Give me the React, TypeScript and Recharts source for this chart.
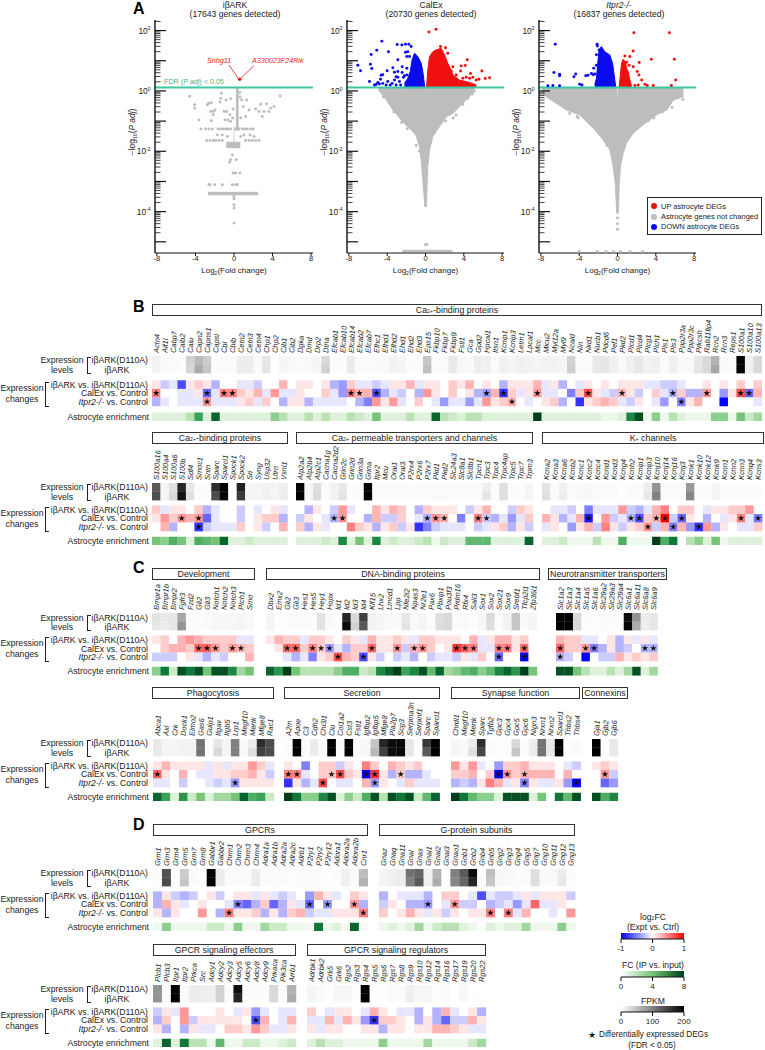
import React from 'react'
import { Area, ComposedChart, ReferenceLine, Scatter, ScatterChart, XAxis, YAxis, ZAxis } from 'recharts'

// ---------- panel A: volcano plots. pts are [log2FC, log10 padj], envelopes are [log2FC, low, high]
const fdrLine = 0.11
const decades = [-5, -4, -3, -2, -1, 0, 1, 2]
const xTicks = [-8, -4, 0, 4, 8]

const ibarkGreyPts = [
  [-4.6, -0.18], [-4.08, -0.46], [-4.08, -0.57], [-3.63, -0.96], [-3.43, -1.26], [-2.77, -0.46], [-2.6, -0.41], [-2.35, -0.39],
  [-2.42, -0.68], [-2.15, -0.68], [-1.97, -0.63], [-1.31, -0.08], [-1.38, -0.24], [-1.45, -0.37], [-0.83, -0.3], [-0.35, -0.26],
  [-1.04, -0.68], [-0.76, -0.68], [-0.42, -0.79], [-0.93, -0.96], [-0.62, -0.96], [-0.35, -1.01], [-2.15, -0.79], [-2.35, -0.99],
  [-1.73, -1.46], [-1.21, -1.46], [-0.69, -1.51], [1.31, -0.3], [0.8, -0.3], [0.97, -0.52], [1.56, -0.63], [1.21, -0.85],
  [2.25, -0.6], [2.77, -0.44], [3.39, -0.43], [3.81, -0.57], [4.15, -0.52], [4.78, -0.17], [2.94, -0.85], [3.11, -0.68],
  [3.63, -0.68], [2.6, -0.68], [2.08, -1.51], [1.66, -1.46], [1.04, -1.46], [0.69, -1.51], [-0.17, -2.12], [-0.35, -2.28],
  [-0.45, -2.36], [0.24, -2.28], [-0.1, -2.72], [0.17, -2.72], [0.62, -2.72], [-2.49, -3.11], [-2.6, -3.11], [-1.21, -3.11],
  [-2.0, -3.11], [-0.17, -3.11], [0.17, -3.11], [0.35, -3.11], [0, -3.5], [0, -3.57], [0, -3.77], [0, -3.88], [0, -4.38],
  [-2.94, -1.26], [-2.6, -1.26], [-2.25, -1.26], [-1.66, -1.26], [-1.38, -1.26], [-1.11, -1.26], [-0.87, -1.26], [-0.62, -1.26],
  [-0.35, -1.26], [0.17, -1.26], [0.52, -1.26], [0.87, -1.26], [1.11, -1.26], [1.38, -1.26], [1.73, -1.26], [2.0, -1.26],
  [-2.84, -1.64], [-2.49, -1.64], [-2.15, -1.64], [-1.9, -1.64], [-1.56, -1.64], [-1.21, -1.64], [1.21, -1.64], [1.56, -1.64],
  [1.9, -1.64], [2.25, -1.64], [2.6, -1.64], [0.6, -0.05], [0.62, -0.2], [0.7, -0.9], [-0.1, -0.6], [-0.15, -0.9],
]
const ibarkStrip = [[-2.7, -3.44, -3.36], [2.5, -3.44, -3.36]]
const ibarkColumn = [[0.2, -1.3, 0.08], [0.48, -1.3, 0.08]]
const ibarkClump = [[-0.8, -1.88, -1.7], [0.65, -1.88, -1.7]]
const ibarkStem = [[-0.04, -1.9, -1.2], [0.04, -1.9, -1.2]]
const ibarkRedPts = [[0.55, 0.39], [0.62, 0.39]]

const calexGreyBand = [
  [-4.9, 0.02, 0.11], [-4.5, -0.13, 0.11], [-4.1, -0.3, 0.11], [-3.4, -0.63, 0.11], [-2.4, -1.01, 0.11], [-1.7, -1.23, 0.11], [-1, -1.46, 0.11],
  [-0.63, -1.84, 0.11], [-0.45, -2.28, 0.11], [-0.28, -2.94, 0.11], [-0.17, -3.38, 0.11], [-0.07, -3.83, 0.11], [0.07, -3.83, 0.11],
  [0.14, -3.38, 0.11], [0.24, -2.5, 0.11], [0.42, -1.95, 0.11], [0.77, -1.51, 0.11], [1.46, -1.18, 0.11], [2.2, -0.85, 0.11],
  [2.9, -0.74, 0.11], [3.55, -0.52, 0.11], [4.25, -0.3, 0.11], [5.1, -0.02, 0.11],
]
const calexBlueBand = [
  [-2.2, 0.11, 0.25], [-1.85, 0.11, 0.42], [-1.6, 0.11, 0.64], [-1.4, 0.11, 1.03], [-1.15, 0.11, 1.25], [-0.8, 0.11, 1.14],
  [-0.45, 0.11, 0.92], [-0.28, 0.11, 0.64], [-0.07, 0.11, 0.11],
]
const calexRedBand = [
  [0.1, 0.11, 0.11], [0.24, 0.11, 0.69], [0.42, 0.11, 1.14], [0.77, 0.11, 1.3], [1.11, 0.11, 1.36], [1.64, 0.11, 1.41], [1.99, 0.11, 1.19],
  [2.33, 0.11, 0.92], [2.68, 0.11, 0.69], [2.86, 0.11, 0.53], [3.55, 0.11, 0.36], [4.6, 0.11, 0.28], [5.3, 0.11, 0.2],
]
const calexBottomRow = [[-2.4, -5.33, -5.28], [2.8, -5.33, -5.28]]
const calexGreyPts = [
  [0, -5.09], [0.14, -5.09], [-0.98, -1.81], [-0.63, -2.0], [0, -3.1], [0, -3.3], [0.05, -3.6], [0, -3.8], [-2, -1.1], [-1.9, -1.25], [-3.3, -0.7],
  [-4.4, -0.2], [-4.5, -0.05], [2.9, -0.9], [3.2, -0.8], [3.9, -0.45], [4.4, -0.25], [4.9, -0.1], [5.1, 0.0], [-2.5, -1.05], [2.1, -1.0],
]
const calexBluePts = [
  [-4.56, 1.65], [-5.09, 1.35], [-5.68, 1.21], [-3.87, 1.3], [-7.07, 0.85], [-6.79, 0.67], [-5.75, 0.88], [-5.61, 0.74], [-2.96, 1.54], [-2.47, 1.52],
  [-2.09, 1.55], [-1.74, 1.55], [-1.5, 1.47], [-1.85, 1.3], [-2.09, 1.28], [-1.67, 1.14], [-1.95, 1.14], [-2.89, 1.03], [-3.41, 0.77], [-4.01, 0.67],
  [-4.46, 0.54], [-4.63, 0.52], [-4.7, 0.39], [-5.85, 0.31], [-4.98, 0.28], [-5.33, 0.2], [-5.16, 0.21], [-4.46, 0.25], [-3.94, 0.31], [-3.24, 0.36],
  [-3.24, 0.62], [-2.89, 0.64], [-2.44, 0.8], [-2.44, 0.61], [-2.89, 0.45], [-1.95, 0.75], [-2.72, 0.31], [-3.07, 0.47], [-1.95, 0.53], [-2.3, 0.45],
  [-4.81, 0.23], [-3.48, 0.25], [-4.11, 0.2], [-3.69, 0.2], [-3.07, 0.2], [-2.6, 0.2], [-2.2, 0.5],
]
const calexRedPts = [
  [0.35, 1.95], [1.11, 2.04], [1.57, 1.47], [2.09, 1.43], [2.33, 1.25], [4.36, 1.03], [4.15, 0.84], [3.73, 0.83], [3.66, 0.66], [5.89, 0.66], [4.7, 0.58],
  [4.95, 0.45], [5.3, 0.36], [6.24, 0.41], [6.69, 0.44], [5.57, 0.39], [2.86, 0.8], [2.68, 0.66], [3.2, 0.53], [4.25, 0.45], [4.6, 0.42], [3.9, 0.42],
]

const itprGreyBand = [
  [-7.9, 0.05, 0.11], [-7.45, -0.19, 0.11], [-6.4, -0.41, 0.11], [-5.35, -0.63, 0.11], [-3.95, -0.79, 0.11], [-2.55, -1.23, 0.11], [-1.5, -1.62, 0.11],
  [-0.8, -1.95, 0.11], [-0.45, -2.5, 0.11], [-0.21, -3.16, 0.11], [-0.08, -4.05, 0.11], [-0.01, -4.05, -0.4], [0.01, -4.05, -0.4], [0.08, -4.05, 0.11], [0.17, -3.16, 0.11],
  [0.31, -2.5, 0.11], [0.59, -2.06, 0.11], [0.94, -1.73, 0.11], [1.64, -1.4, 0.11], [2.69, -1.12, 0.11], [4.09, -0.79, 0.11],
  [5.14, -0.63, 0.11], [5.84, -0.3, 0.11], [6.89, -0.19, 0.11],
]
const itprBlueBand = [
  [-2.38, 0.11, 0.2], [-2.2, 0.11, 0.42], [-2.03, 0.11, 1.03], [-1.92, 0.11, 1.36], [-1.68, 0.11, 1.47], [-1.33, 0.11, 1.3], [-0.8, 0.11, 1.19],
  [-0.52, 0.11, 0.92], [-0.35, 0.11, 0.53], [-0.17, 0.11, 0.11],
]
const itprRedBand = [
  [0.17, 0.11, 0.11], [0.28, 0.11, 0.47], [0.42, 0.11, 0.92], [0.59, 0.11, 1.05], [0.84, 0.11, 0.97], [0.94, 0.11, 0.75], [1.12, 0.11, 0.64],
  [1.29, 0.11, 0.36], [1.47, 0.11, 0.17],
]
const itprGreyPts = [
  [0, -4.21], [0, -4.4], [0, -4.58], [0, -3.6], [6.82, -0.28], [6.7, -0.14], [6.2, -0.08], [5.6, -0.1], [-6.6, -0.3], [-7.6, -0.1], [-5, -0.75], [-4.2, -0.85],
  [-4.1, -0.9], [3.2, -1.0], [3.8, -0.9], [4.7, -0.7], [5.7, -0.55], [-3, -1.05], [-1.1, -1.8], [-2.1, -5.32], [-1.2, -5.32], [-0.4, -5.32], [0.3, -5.32], [1.3, -5.32], [2.6, -5.32], [-4, -5.32],
]
const itprBluePts = [
  [-6.5, 1.55], [-6.64, 0.61], [-6.05, 0.55], [-6.05, 0.5], [-7.27, 0.17], [-6.75, 0.18], [-6.05, 0.17], [-4.55, 0.47], [-4.37, 0.56], [-3.95, 0.22], [-3.71, 0.2],
  [-3.32, 0.5], [-3.08, 0.52], [-2.73, 0.58], [-2.48, 0.75], [-2.13, 1.55], [-2.1, 1.49], [-2.38, 0.56], [-2.55, 0.54], [-1.92, 1.36], [-2.2, 1.2], [-2.2, 0.85],
]
const itprRedPts = [
  [1.71, 1.93], [5.42, 1.93], [1.64, 1.32], [1.29, 1.14], [0.77, 1.16], [2.27, 0.94], [3.53, 1.05], [5.94, 1.05], [1.64, 0.8], [2.06, 0.64], [2.24, 0.53], [2.52, 0.36],
  [6.08, 0.36], [2.87, 0.22], [3.11, 0.18], [3.74, 0.18], [5.63, 0.18], [1.22, 0.18], [1.82, 0.18], [2.17, 0.2], [0.95, 0.95], [1.2, 0.85],
]

// ---------- heat maps. levels in FPKM, fold change in tenths of log2FC, enrichment in FC
const b1Genes = 'Actn4 Aif1l Cabp7 Calb2 Calu Capn2 Capns1 Capsl Cbl Cblb Cetn2 Cetn3 Cetn4 Chp1 Chp2 Cib1 Cib2 Dgka Dmd Drp2 Dtna Efcab1 Efcab10 Efcab14 Efcab2 Efcab7 Efhc1 Efhd1 Efhd2 Ehd1 Ehd2 Ehd3 Eps15 Fkbp10 Fkbp7 Fkbp9 Fstl1 Gca Gpd2 Hpcal1 Itsn1 Kcnip1 Kcnip3 Letm1 Lpcat1 Mcc Micu2 Myl12a Myl9 Ncald Nln Nkd1 Nucb1 Pdcd6 Pef1 Pkd2 Plcd1 Plcd4 Plcg1 Plch1 Pls1 Pls3 Ppp2r3a Ppp2r3c Prkcsh Rab11fip4 Rcn2 Rcn3 Reps1 S100a1 S100a10 S100a13'.split(' ')
const b1LevelA = [10, 4, 4, 2, 35, 55, 40, 2, 4, 4, 14, 14, 4, 20, 1, 8, 5, 4, 5, 8, 30, 2, 2, 16, 4, 2, 4, 5, 10, 8, 2, 3, 45, 3, 3, 18, 6, 5, 14, 12, 4, 12, 8, 12, 10, 8, 10, 10, 8, 35, 3, 3, 18, 20, 12, 5, 12, 18, 10, 12, 3, 12, 5, 5, 20, 30, 60, 5, 3, 200, 12, 30]
const b1LevelB = [10, 4, 4, 2, 32, 65, 45, 2, 4, 4, 14, 14, 4, 20, 1, 8, 5, 4, 5, 8, 35, 2, 2, 16, 4, 2, 4, 5, 10, 8, 2, 3, 50, 3, 3, 18, 6, 5, 14, 12, 4, 12, 8, 12, 10, 8, 10, 10, 8, 38, 3, 3, 18, 20, 12, 5, 12, 18, 10, 12, 3, 12, 5, 5, 20, 30, 70, 5, 3, 200, 12, 30]
const b1Fc1 = [1, -2, -1, -7, 1, 2, 1, -3, 0, 0, -1, -1, -2, 0, 0, 3, 0, 1, 1, 0, 1, -3, -4, 2, -1, -1, -2, -1, 1, 1, 3, -1, 1, 1, 0, 2, 1, 3, 0, 1, 0, -3, 1, 1, 1, 3, -1, 1, -3, 0, -1, 1, 0, 1, 0, 1, 1, 1, -1, -1, -2, -2, -1, 0, 0, 1, 0, 1, 0, 2, 0, 2]
const b1Fc2 = [5, 0, 0, -1, -1, 1, -6, -1, 5, 5, 2, 1, 3, -1, 4, -1, -1, 1, 0, 0, 2, -1, -4, 5, 3, 3, -7, -3, -1, -2, 0, -3, 4, 1, 0, 2, 0, 1, -3, -4, 3, -8, 2, -1, 1, 4, -1, -1, 0, -5, 2, 7, 1, -1, -2, 3, 1, -2, 0, 2, -1, -3, 2, -3, -3, 4, 0, -4, 1, 7, -6, 3]
const b1Fc3 = [-3, -1, 0, -1, -1, -1, 4, -1, -1, -1, 1, 2, -1, 2, 0, -3, 1, 1, -3, -1, -1, -1, -1, 0, -3, -5, 4, 1, 4, -1, 0, 2, 0, -1, -4, -1, -1, -4, -1, 4, 1, 2, 3, 0, -1, 0, 1, 2, -3, 0, -8, 1, 2, 3, 2, -1, -2, 1, 0, -1, -4, 0, -5, 1, 3, 0, 0, -10, 0, 0, 0, -1]
const b1Enrich = [1, 1, 1, 1, 2, 5, 1, 7, 1, 1, 1, 1, 1, 1, 3, 2, 1, 1, 2, 1, 2, 1, 1, 2, 1.5, 1, 3.5, 1, 1, 1, 2, 1, 1, 7, 2, 1.5, 1, 2, 2, 1, 1, 1, 1, 1, 1, 8, 1, 1, 1, 1, 1, 1, 1, 0.5, 0.5, 1, 6, 7.5, 0.5, 3, 0.5, 2, 1, 0.5, 0.5, 0.5, 3, 3, 0.5, 3.5, 1.5, 2.5]
const b1Stars2 = ['Actn4', 'Capns1', 'Cbl', 'Cblb', 'Efcab14', 'Efcab2', 'Efhc1', 'Hpcal1', 'Kcnip1', 'Mcc', 'Nkd1', 'Pkd2', 'Pls3', 'Rab11fip4', 'S100a1', 'S100a10']
const b1Stars3 = ['Capns1', 'Kcnip3', 'Ppp2r3a']

const b2Genes = 'S100a16 S100a4 S100a6 S100b Sdf4 Smoc1 Sntn Sparc Sparcl1 Spock1 Spock2 Sri Syng Usp32 Utrn Vsnl1'.split(' ')
const b2LevelA = [130, 8, 25, 170, 20, 3, 2, 165, 200, 3, 175, 8, 8, 12, 8, 14]
const b2LevelB = [140, 8, 30, 185, 25, 3, 2, 140, 195, 3, 155, 8, 8, 12, 8, 14]
const b2Fc1 = [2, -1, 1, 1, 0, 2, -3, -1, 0, 0, -2, 0, -1, 0, 1, -1]
const b2Fc2 = [1, 4, 2, 4, 3, 4, -6, -1, 0, 0, -2, 0, 1, 2, 2, -3]
const b2Fc3 = [0, 3, -3, 0, 0, -8, -2, -1, -1, -1, 2, 0, 1, -2, 0, 3]
const b2Enrich = [3.5, 3, 4.5, 3.5, 1, 4.5, 4, 3.5, 7, 1, 1, 1.5, 1, 1, 1, 1]
const b2Stars2 = ['S100b', 'Smoc1']
const b2Stars3 = ['Smoc1']

const b3Genes = 'Atp2a2 Atp2b4 Atp2c1 Cacna1g Cacna2d2 Grin2c Grin2d Grin3a Grina Itpr2 Mcu Orai1 Orai3 P2rx4 P2rx6 P2rx7 Pkd1 Pkd2 Slc24a3 Slc8a1 Slc8b1 Tpcn1 Trpc3 Trpc4 Trpc4ap Trpc5 Trpc7 Trpm3'.split(' ')
const b3LevelA = [195, 6, 25, 3, 10, 18, 2, 2, 195, 4, 3, 4, 3, 2, 3, 3, 4, 4, 3, 3, 3, 4, 14, 2, 25, 2, 2, 8]
const b3LevelB = [200, 6, 28, 3, 10, 22, 2, 2, 200, 4, 3, 4, 3, 2, 3, 3, 4, 4, 3, 3, 3, 4, 20, 2, 25, 2, 2, 8]
const b3Fc1 = [0, -3, 1, 0, -2, 4, -1, 0, 0, 3, 1, 3, 2, 0, -3, 2, 1, 1, 1, 0, -2, 1, 3, 0, 0, -2, 2, 1]
const b3Fc2 = [-2, 1, 0, -1, -3, 4, 0, 0, -3, 3, -2, -2, 2, 0, -1, -3, 4, 3, 0, -5, 0, 5, -2, -3, -1, -4, -1, 2]
const b3Fc3 = [2, -3, 1, -1, 0, 0, 5, 2, 1, -3, 1, 2, -2, 1, -8, -5, -2, -1, -1, -1, 0, -2, -1, 1, 2, -3, 1, -2]
const b3Enrich = [1, 1, 1, 1.5, 1, 6, 1, 3.5, 1, 6, 1, 1.5, 1, 1, 1.5, 2, 0.5, 1.5, 1, 1, 4, 4, 4, 1, 1, 1, 1, 7]
const b3Stars2 = ['Cacna2d2', 'Grin2c', 'P2rx7', 'Pkd1', 'Pkd2', 'Tpcn1', 'Trpc3']
const b3Stars3: string[] = []

const b4Genes = 'Kcna2 Kcna3 Kcna6 Kcnb2 Kcnc1 Kcnc2 Kcnc4 Kcnd1 Kcnd3 Kcng4 Kcnh2 Kcnip1 Kcnip3 Kcnj10 Kcnj14 Kcnj16 Kcnj3 Kcnk1 Kcnk10 Kcnk12 Kcnk9 Kcnn1 Kcnn2 Kcnn3 Kcnq4 Kcns3'.split(' ')
const b4LevelA = [22, 4, 12, 3, 5, 6, 3, 3, 4, 1, 3, 3, 14, 85, 3, 3, 3, 80, 2, 2, 8, 2, 2, 2, 2, 2]
const b4LevelB = [24, 4, 14, 3, 5, 6, 3, 3, 4, 1, 3, 3, 18, 100, 3, 3, 3, 95, 2, 2, 8, 2, 2, 2, 2, 2]
const b4Fc1 = [0, -1, -1, -2, 0, -5, -1, -1, -1, 4, -2, -3, -1, 3, 5, 0, 2, 2, 0, -1, 1, 1, 2, 2, 4, 0]
const b4Fc2 = [3, 1, -3, -1, 3, -9, 0, 4, -2, -1, -3, -7, 2, 3, 10, -2, -6, 1, 0, -3, 0, -1, 1, 5, -1, -5]
const b4Fc3 = [-1, 1, 0, -4, 1, 3, -2, 5, 1, -2, 1, 2, 4, -2, 3, -5, 3, -4, -8, 4, -3, 1, 0, -1, -1, 2]
const b4Enrich = [1, 1, 1.5, 0.5, 0.5, 0.5, 2, 0.5, 0.5, 4.5, 0.5, 0.5, 0.5, 8, 4.5, 6.5, 0, 2, 3, 1, 3.5, 0.5, 1, 1, 1, 1]
const b4Stars2 = ['Kcnc2', 'Kcnh2', 'Kcnip1', 'Kcnj10', 'Kcnj14', 'Kcnj3', 'Kcnn3', 'Kcns3']
const b4Stars3 = ['Kcnip3', 'Kcnj16', 'Kcnk10']

const c1Genes = 'Bmpr1a Bmpr1b Bmpr2 Fgfr3 Fzd2 Gli2 Gli3 Notch1 Notch2 Notch3 Ptch1 Smo'.split(' ')
const c1LevelA = [22, 18, 20, 70, 3, 2, 4, 6, 6, 6, 8, 5]
const c1LevelB = [18, 14, 20, 85, 3, 2, 4, 6, 6, 6, 8, 5]
const c1Fc1 = [1, 2, 0, 3, 4, 3, 2, 2, 2, 2, -1, -1]
const c1Fc2 = [0, 2, 3, 3, 2, 6, 6, 4, 2, 4, 3, 2]
const c1Fc3 = [-2, -2, -2, 0, 1, -1, -3, -1, -2, 0, 0, 3]
const c1Enrich = [3, 6.5, 1.5, 7.5, 6.5, 7.5, 3.5, 7.5, 7.5, 6, 2.5, 3.5]
const c1Stars2 = ['Gli2', 'Gli3', 'Notch1', 'Notch3', 'Ptch1']
const c1Stars3: string[] = []

const c2Genes = 'Dbx2 Emx2 Gli2 Gli3 Hes1 Hes5 Hey1 Hopx Id1 Id2 Id3 Id4 Klf15 Lhx2 Lmcd1 Lpp Nfe2l2 Npas3 Nr2e1 Pax6 Pbxip1 Pou3f3 Prdm16 Rfx4 Sall3 Sox1 Sox2 Sox21 Sox9 Srebf1 Tfcp2l1 Zfp36l1'.split(' ')
const c2LevelA = [8, 1, 2, 4, 2, 3, 22, 5, 2, 170, 30, 150, 10, 8, 5, 4, 20, 5, 8, 3, 25, 30, 3, 5, 2, 6, 30, 2, 10, 45, 4, 8]
const c2LevelB = [8, 1, 2, 4, 2, 3, 22, 5, 2, 190, 35, 130, 10, 8, 5, 4, 22, 5, 8, 3, 25, 30, 3, 5, 2, 6, 25, 2, 10, 45, 4, 8]
const c2Fc1 = [1, 3, 2, 2, -1, 2, 2, 1, 0, 2, 1, -1, 3, 1, 1, 2, 1, -1, 2, 2, 1, 1, 1, 0, 3, -1, 1, 3, 3, 1, 2, 0]
const c2Fc2 = [0, 1, 6, 6, 2, 5, 2, -4, -1, -3, 2, 2, 6, 1, 1, 4, -2, 3, 4, 2, 0, 1, 8, 6, 5, -1, -1, 5, 5, 1, 6, 0]
const c2Fc3 = [0, 0, -1, -3, -1, -5, 1, 2, 7, 3, 2, -7, 1, -2, 0, -2, -1, -3, 0, -2, -1, -1, -2, 1, -1, 2, 0, -6, 0, 0, -10, 0]
const c2Enrich = [7, 5.5, 8, 3.5, 2, 2, 2, 2, 3, 4.5, 4.5, 1.5, 2, 6, 7, 8, 5, 6, 7.5, 4, 7, 2.5, 3, 4, 4.5, 3, 4, 6, 7, 5.5, 8, 3.5]
const c2Stars2 = ['Gli2', 'Gli3', 'Hes5', 'Hey1', 'Hopx', 'Klf15', 'Lpp', 'Npas3', 'Nr2e1', 'Prdm16', 'Rfx4', 'Sall3', 'Sox21', 'Sox9', 'Tfcp2l1']
const c2Stars3 = ['Id1', 'Id4', 'Sox21', 'Tfcp2l1']

const c3Genes = 'Slc1a2 Slc1a3 Slc1a4 Slc1a5 Slc1a6 Slc29a2 Slc29a3 Slc29a4 Slc6a1 Slc6a11 Slc6a8 Slc6a9'.split(' ')
const c3LevelA = [200, 200, 30, 2, 1, 2, 2, 2, 190, 85, 16, 20]
const c3LevelB = [200, 200, 28, 2, 1, 2, 2, 2, 195, 65, 14, 20]
const c3Fc1 = [3, 2, 2, -1, -1, 0, 1, -3, 1, -1, 1, -1]
const c3Fc2 = [6, 2, 2, 4, -5, -3, 1, -3, -2, 0, -3, -3]
const c3Fc3 = [-3, -2, 0, -10, 0, -2, -2, 3, 1, 2, 1, 2]
const c3Enrich = [7.5, 7.5, 3.5, 2, 1, 1, 2, 1, 2.5, 7.5, 1, 2.5]
const c3Stars2 = ['Slc1a2', 'Slc1a5', 'Slc1a6', 'Slc6a8', 'Slc6a9']
const c3Stars3 = ['Slc1a2']

const c4Genes = 'Abca1 Axl Crk Dock1 Elmo2 Gas6 Gulp1 Itgav Itgb5 Lrp1 Megf10 Mertk Mfge8 Rac1'.split(' ')
const c4LevelA = [18, 8, 8, 10, 10, 110, 3, 20, 8, 100, 5, 15, 165, 140]
const c4LevelB = [18, 8, 8, 10, 10, 110, 3, 30, 8, 100, 5, 25, 150, 140]
const c4Fc1 = [1, 3, 1, 1, 1, 1, -1, 1, -1, 1, 1, 4, 2, -1]
const c4Fc2 = [6, 1, 0, 3, 0, -1, -1, 1, 1, 2, 2, 3, 1, -2]
const c4Fc3 = [-1, -1, 0, -2, 0, 0, -1, -2, -1, -4, 1, 1, 1, 1]
const c4Enrich = [7, 5, 1, 5.5, 1.5, 3.5, 1, 2.5, 2.5, 3.5, 7, 4.5, 5, 1.5]
const c4Stars2 = ['Abca1']
const c4Stars3 = ['Lrp1']

const c5Genes = 'A2m Apoe C3 Cdh2 Chi3l1 Clu Col1a2 Cst3 Fstl1 Igfbp2 Igfbp5 Mfge8 Pla2g7 Scg3 Serpina3n Serpinf1 Sparc Sparcl1'.split(' ')
const c5LevelA = [2, 200, 2, 16, 4, 200, 3, 200, 4, 6, 45, 170, 190, 195, 20, 2, 155, 200]
const c5LevelB = [2, 200, 2, 14, 4, 200, 3, 200, 4, 6, 55, 150, 190, 195, 20, 2, 130, 200]
const c5Fc1 = [1, 0, -5, 0, 2, 2, -2, 1, 0, 5, 2, 0, 3, 2, 1, 2, 0, 0]
const c5Fc2 = [5, 5, -1, 0, 2, 2, 7, 2, 1, -10, 8, 1, -3, 2, -3, -3, -1, 0]
const c5Fc3 = [-8, 1, -3, -1, 7, 0, -1, -1, 0, 3, -4, 1, 0, -1, 2, -1, -1, -1]
const c5Enrich = [8, 6.5, 3, 3, 6, 7.5, 1, 3, 1.5, 4.5, 7.5, 2, 7.5, 6.5, 7.5, 1.5, 4, 7]
const c5Stars2 = ['A2m', 'Apoe', 'Clu', 'Col1a2', 'Igfbp2', 'Igfbp5', 'Scg3']
const c5Stars3 = ['Chi3l1', 'Igfbp5']

const c6Genes = 'Chrdl1 Megf10 Mertk Sparc Tgfb2 Gpc3 Gpc4 Gpc5 Gpc6 Nlgn3 Nrxn1 Nrxn2 Sparcl1 Thbs2 Thbs4'.split(' ')
const c6LevelA = [8, 5, 15, 165, 2, 1, 3, 30, 2, 14, 110, 18, 200, 1, 3]
const c6LevelB = [8, 5, 25, 145, 2, 1, 3, 45, 2, 14, 110, 18, 200, 1, 3]
const c6Fc1 = [4, 1, 4, -1, 0, -4, 2, 2, 3, 1, 1, 1, 0, -1, -2]
const c6Fc2 = [2, 2, 3, 0, 2, -10, 4, 2, 3, 3, 3, 3, 0, 3, 0]
const c6Fc3 = [-3, -2, -3, 1, 5, 3, -1, 1, -5, 1, -1, -1, 1, -4, -10]
const c6Enrich = [8, 6.5, 4, 3, 3, 1, 7.5, 7.5, 7.5, 1, 3.5, 0, 6.5, 4, 7.5]
const c6Stars2 = ['Gpc3', 'Gpc4', 'Gpc6']
const c6Stars3 = ['Gpc6', 'Thbs4']

const c7Genes = ['Gja1', 'Gjb2', 'Gjb6']
const c7LevelA = [200, 1, 18]
const c7LevelB = [200, 1, 18]
const c7Fc1 = [1, 2, 1]
const c7Fc2 = [0, 4, -2]
const c7Fc3 = [0, -6, -4]
const c7Enrich = [7.5, 4.5, 6]
const c7Stars2 = ['Gjb2']
const c7Stars3: string[] = []

const d1Genes = 'Grm1 Grm3 Grm4 Grm5 Grm7 Grm8 Gabbr1 Gabbr2 Chrm1 Chrm2 Chrm3 Chrm4 Adra1a Adra1b Adra2a Adra2c Adrb1 P2ry1 P2ry2 P2ry12 Adora1 Adora2a Adora2b Cnr1'.split(' ')
const d1LevelA = [2, 135, 2, 40, 4, 2, 200, 15, 4, 4, 4, 15, 3, 2, 3, 1, 2, 2, 2, 1, 2, 12, 4, 50]
const d1LevelB = [2, 140, 2, 45, 4, 2, 200, 15, 4, 4, 4, 15, 3, 2, 3, 1, 2, 2, 2, 1, 2, 12, 4, 60]
const d1Fc1 = [-3, 1, -2, -3, -2, 0, 1, -2, 0, 1, 1, -1, 1, -1, -2, -1, 0, -4, 3, 1, -1, 0, 2, 1]
const d1Fc2 = [-3, 3, 1, -1, 0, 1, 0, 0, -1, -5, -6, -3, 2, -6, -3, 1, -1, -6, 0, -4, 0, 0, 4, -3]
const d1Fc3 = [1, -3, 1, 0, 0, 4, 0, -3, 5, 1, 1, 2, -3, 1, -3, 2, 3, -2, -1, -1, 1, 1, 1, 5]
const d1Enrich = [0.5, 3, 0.5, 0.5, 0.5, 0.5, 1.5, 1.5, 0.5, 3, 0.5, 0.5, 2.5, 1.5, 1.5, 0.5, 0.5, 0.3, 6.5, 0.5, 1, 0.3, 7, 0.3]
const d1Stars2 = ['Chrm2', 'P2ry1', 'P2ry12', 'Adora2b']
const d1Stars3 = ['Chrm1', 'Cnr1']

const d2Genes = 'Gnaz Gnaq Gna11 Gnal Gnas Gnai1 Gnai2 Gnai3 Gnao1 Gnb1 Gnb2 Gnb4 Gnb5 Gng2 Gng3 Gng4 Gng5 Gng7 Gng10 Gng11 Gng12 Gng13'.split(' ')
const d2LevelA = [8, 12, 14, 110, 120, 12, 60, 2, 100, 130, 190, 2, 50, 6, 5, 2, 3, 25, 4, 5, 14, 2]
const d2LevelB = [8, 12, 14, 100, 130, 12, 65, 2, 95, 120, 170, 2, 45, 6, 5, 2, 3, 25, 4, 5, 18, 2]
const d2Fc1 = [-3, 0, -1, -1, -1, -3, 0, 2, 2, 0, -1, -7, -1, -2, -2, -1, 1, -1, 1, 1, 1, -2]
const d2Fc2 = [-2, 1, 0, -3, -3, -4, 0, -1, 4, -2, -2, 0, -3, -2, -1, -4, -1, 6, -1, -1, 1, 0]
const d2Fc3 = [2, 0, 1, 3, 1, -1, 1, -2, 1, 0, 1, 1, 5, 0, 5, -1, 3, 0, 0, -1, 0, 4]
const d2Enrich = [0.5, 1, 0.5, 1, 2.5, 0.5, 1.5, 2, 2, 1, 0.5, 0, 1, 0.5, 1, 1, 2.5, 0.5, 0.5, 0.5, 3, 0.5]
const d2Stars2 = ['Gnai1', 'Gnao1']
const d2Stars3 = ['Gnb5', 'Gng3']

const d3Genes = 'Plcb1 Plcb3 Itpr1 Itpr2 Prkca Src Adcy1 Adcy2 Adcy3 Adcy5 Adcy6 Adcy8 Adcy9 Prkaca Pik3ca Arrb1'.split(' ')
const d3LevelA = [85, 4, 200, 4, 14, 14, 12, 35, 3, 190, 3, 2, 2, 30, 3, 60]
const d3LevelB = [85, 4, 200, 4, 14, 14, 12, 35, 3, 170, 3, 2, 2, 30, 3, 65]
const d3Fc1 = [-2, 1, -1, 4, 0, 0, 0, 1, 0, -1, 1, -4, -1, 0, -1, -1]
const d3Fc2 = [-3, 2, 0, 4, -2, 1, 1, 1, 1, 1, 0, -7, 3, 0, -1, 3]
const d3Fc3 = [1, -3, 0, -3, 1, -1, -1, 0, 2, 2, 1, 4, 2, -1, -1, 1]
const d3Enrich = [1, 7, 1, 6.5, 2, 2, 0.5, 4, 0.5, 0.5, 1.5, 1.5, 0.5, 0.5, 1, 1.5]
const d3Stars2 = ['Adcy8']
const d3Stars3: string[] = []

const d4Genes = 'Adrbk1 Adrbk2 Grk5 Grk6 Rgs2 Rgs3 Rgs4 Rgs5 Rgs6 Rgs7 Rgs8 Rgs9 Rgs10 Rgs12 Rgs14 Rgs16 Rgs17 Rgs19 Rgs20 Rgs22'.split(' ')
const d4LevelA = [8, 4, 1, 6, 6, 1, 200, 1, 1, 3, 3, 12, 6, 6, 1, 4, 1, 6, 1, 0]
const d4LevelB = [8, 4, 1, 6, 6, 1, 200, 1, 1, 3, 3, 14, 6, 6, 1, 4, 1, 6, 1, 0]
const d4Fc1 = [2, 0, -1, 1, 1, 0, -1, 3, 1, 0, -1, -1, -3, 0, -3, 3, -1, 0, 1, -3]
const d4Fc2 = [-1, -1, 3, -1, 3, 1, -4, -8, 2, 2, 1, 0, -3, 1, -3, -6, -2, -2, 3, 1]
const d4Fc3 = [1, -1, 1, 1, 0, 0, 1, 1, -3, 1, 1, 0, 1, 1, 3, 3, 2, 1, -1, -1]
const d4Enrich = [1, 2, 1, 1, 0.5, 0.5, 0.5, 0.5, 3, 0.5, 0.5, 0.5, 0.5, 2.5, 0.5, 0.5, 0.5, 0.5, 1.5, 2.5]
const d4Stars2 = ['Rgs5']
const d4Stars3: string[] = []

// ---------- helpers
const font = '"Liberation Sans", Arial, sans-serif'
const pts = (list: number[][]) => list.map(([x, y]) => ({ x, y }))
const band = (list: number[][]) => list.map(([x, lo, hi]) => ({ x, range: [lo, hi] }))

const mix = (a: number[], b: number[], t: number) => a.map((c, i) => Math.round(c + (b[i] - c) * t))
const rgb = (c: number[]) => `rgb(${c[0]},${c[1]},${c[2]})`
const fcColor = (v: number) => rgb(mix([255, 255, 255], v < 0 ? [0, 0, 255] : [255, 0, 0], Math.min(1, Math.abs(v) / 10)))
const levelColor = (v: number) => rgb(mix([255, 255, 255], [0, 0, 0], v / 200))
const greenStops: [number, number[]][] = [[0, [255, 255, 255]], [1, [222, 241, 218]], [2, [184, 226, 178]], [3.5, [118, 196, 120]], [5, [58, 163, 90]], [6.5, [14, 120, 56]], [8, [0, 62, 26]]]
const enrichColor = (v: number) => {
  for (let i = 1; i < greenStops.length; i++) {
    if (v <= greenStops[i][0]) {
      const [a, ca] = greenStops[i - 1]
      const [b, cb] = greenStops[i]
      return rgb(mix(ca, cb, (v - a) / (b - a)))
    }
  }
  return rgb(greenStops[greenStops.length - 1][1])
}

const T = ({ x, y, a = 'l', size = 8.7, children, style }: any) => (
  <div style={{
    position: 'absolute', left: x, top: y, whiteSpace: 'nowrap', lineHeight: 1, fontSize: size, color: '#1a1a1a',
    transform: `translate(${a === 'l' ? '0' : a === 'c' ? '-50%' : '-100%'},-50%)`, ...style,
  }}>{children}</div>
)
const Sup = ({ children }: any) => <span style={{ fontSize: '60%', verticalAlign: '45%', lineHeight: 0 }}>{children}</span>
const Sub = ({ children }: any) => <span style={{ fontSize: '60%', verticalAlign: '-25%', lineHeight: 0 }}>{children}</span>

// ---------- volcano
const volcanoTicks = decades.flatMap(k => [1, 2, 3, 4, 5, 6, 7, 8, 9].map(d => k + Math.log10(d))).filter(v => v > -5.37 && v < 2.35)
const axisGutter = 42

const YTick = ({ x, y, payload }: any) => {
  const v = payload.value
  const major = Math.abs(v - Math.round(v)) < 1e-6
  const labelled = major && Math.round(v) % 2 === 0 && Math.round(v) > -5
  return (
    <g>
      <line x1={x} x2={x + (major ? 11 : 5.5)} y1={y} y2={y} stroke="#111" strokeWidth={major ? 1.2 : 0.8} />
      {labelled && (
        <text x={x - 4.5} y={y + 3} textAnchor="end" fontSize={8.4} fill="#222">
          10<tspan fontSize={5} dy={-3.2}>{Math.round(v)}</tspan>
        </text>
      )}
    </g>
  )
}

const Volcano = ({ plotLeft, plotWidth, greyBands, blueBand, redBand, greyPts, bluePts, redPts, children }: any) => (
  <div style={{ position: 'absolute', left: plotLeft - axisGutter, top: 20 }}>
    <ComposedChart width={plotWidth + axisGutter + 4} height={262} margin={{ top: 0, right: 4, bottom: 0, left: 0 }}>
      <XAxis type="number" dataKey="x" domain={[-8.2, 8.2]} ticks={xTicks} interval={0} height={29} allowDataOverflow
        tick={{ fontSize: 7.6, fill: '#222' }} tickSize={3} tickMargin={0} stroke="#111" />
      <YAxis type="number" dataKey="y" domain={[-5.37, 2.35]} ticks={volcanoTicks} interval={0} width={axisGutter} allowDataOverflow
        tick={YTick} tickLine={false} tickSize={0} tickMargin={0} stroke="#111" strokeWidth={1.4} />
      <ZAxis range={[7, 7]} />
      {greyBands.map((b: number[][], i: number) => (
        <Area key={i} data={band(b)} dataKey="range" type="linear" fill="#bdbdbd" fillOpacity={1} stroke="#bdbdbd" strokeWidth={1} dot={false} activeDot={false} isAnimationActive={false} />
      ))}
      <Scatter data={pts(greyPts)} fill="#bdbdbd" isAnimationActive={false} />
      {blueBand && <Area data={band(blueBand)} dataKey="range" type="linear" fill="#0a0aee" fillOpacity={1} stroke="#0a0aee" strokeWidth={1} dot={false} activeDot={false} isAnimationActive={false} />}
      {redBand && <Area data={band(redBand)} dataKey="range" type="linear" fill="#f01010" fillOpacity={1} stroke="#f01010" strokeWidth={1} dot={false} activeDot={false} isAnimationActive={false} />}
      <Scatter data={pts(bluePts)} fill="#0a0aee" isAnimationActive={false} />
      <Scatter data={pts(redPts)} fill="#f01010" isAnimationActive={false} />
      <ReferenceLine y={fdrLine} stroke="#3dc8a2" strokeWidth={2} />
      {children}
      <text transform={`translate(${axisGutter - 20},112) rotate(-90)`} textAnchor="middle" fontSize={8.5} fill="#222">
        −log<tspan fontSize={5.2} dy={1.5}>10</tspan><tspan dy={-1.5}>(</tspan><tspan fontStyle="italic">P adj</tspan>)
      </text>
      <text x={axisGutter + plotWidth / 2} y={253} textAnchor="middle" fontSize={8} fill="#222">
        Log<tspan fontSize={5} dy={1.5}>2</tspan><tspan dy={-1.5}>(Fold change)</tspan>
      </text>
    </ComposedChart>
  </div>
)

// ---------- heat panel
const GeneTick = (genes: string[]) => ({ x, y, payload }: any) => (
  <text transform={`translate(${x + 2.6},${y - 3}) rotate(-87)`} fontSize={7.4} fontStyle="italic" fill="#222">
    {genes[Math.floor(payload.value)]}
  </text>
)

// five-pointed star marker, drawn at the point the scales give
const StarMark = ({ cx, cy }: any) => {
  const corners = Array.from({ length: 10 }, (_, i) => {
    const r = i % 2 === 0 ? 3.4 : 1.35
    const a = -Math.PI / 2 + (i * Math.PI) / 5
    return `${cx + r * Math.cos(a)},${cy + r * Math.sin(a)}`
  })
  return <polygon points={corners.join(' ')} fill="#111" />
}

const HeatPanel = ({ genes, levelA, levelB, fc1, fc2, fc3, enrich, stars2, stars3, left, top, cellW, gapA = 0.6, gapB = 0.65 }: any) => {
  const cellH = 8.6
  const n = genes.length
  const total = 6 + gapA + gapB
  const labelH = 48
  const rightPad = 8
  const centers = [0.5, 1.5, 2 + gapA + 0.5, 2 + gapA + 1.5, 2 + gapA + 2.5, 5 + gapA + gapB + 0.5]
  const rows = [
    { values: levelA, color: levelColor }, { values: levelB, color: levelColor },
    { values: fc1, color: fcColor }, { values: fc2, color: fcColor }, { values: fc3, color: fcColor },
    { values: enrich, color: enrichColor },
  ]
  const starPts = [
    ...stars2.map((g: string) => ({ x: genes.indexOf(g) + 0.5, y: centers[3] })),
    ...stars3.map((g: string) => ({ x: genes.indexOf(g) + 0.5, y: centers[4] })),
  ]
  return (
    <div style={{ position: 'absolute', left, top: top - labelH }}>
      <ScatterChart width={n * cellW + rightPad} height={labelH + cellH * total} margin={{ top: 0, right: rightPad, bottom: 0, left: 0 }}>
        <XAxis type="number" dataKey="x" orientation="top" domain={[0, n]} ticks={genes.map((_: string, i: number) => i + 0.5)} interval={0}
          height={labelH} axisLine={false} tickLine={false} tickSize={0} tickMargin={0} tick={GeneTick(genes)} />
        <YAxis type="number" dataKey="y" domain={[0, total]} reversed hide />
        {rows.map((row, r) => (
          <Scatter key={r} data={row.values.map((v: number, i: number) => ({ x: i + 0.5, y: centers[r], v }))} isAnimationActive={false}
            shape={(p: any) => <rect x={p.cx - cellW / 2} y={p.cy - cellH / 2} width={cellW + 0.2} height={cellH + 0.2} fill={row.color(p.payload.v)} />} />
        ))}
        <Scatter data={starPts} shape={StarMark} isAnimationActive={false} />
      </ScatterChart>
    </div>
  )
}

const Bracket = ({ x, y1, y2 }: any) => (
  <div style={{ position: 'absolute', left: x, top: y1, width: 3, height: y2 - y1, borderLeft: '1.2px solid #222', borderTop: '1.2px solid #222', borderBottom: '1.2px solid #222' }} />
)

// row captions, top is the first level row
const RowLabels = ({ top, gapA = 0.6, gapB = 0.65 }: any) => {
  const c = 8.6
  const l1 = top + c / 2
  const l2 = top + c * 1.5
  const f0 = top + c * (2 + gapA)
  const e = top + c * (5.5 + gapA + gapB)
  return (
    <>
      <T x={62} y={l1} a="c">Expression</T>
      <T x={62} y={l2 + 1} a="c">levels</T>
      <Bracket x={87} y1={l1 - 3} y2={l2 + 3} />
      <T x={148} y={l1} a="r">iβARK(D110A)</T>
      <T x={117} y={l2 + 1} a="c">iβARK</T>
      <T x={22} y={f0 + c * 0.9} a="c">Expression</T>
      <T x={22} y={f0 + c * 2.15} a="c">changes</T>
      <Bracket x={45} y1={f0 + 1.5} y2={f0 + c * 3 - 1.5} />
      <T x={148} y={f0 + c * 0.5} a="r">iβARK vs. iβARK(D110A)</T>
      <T x={148} y={f0 + c * 1.5} a="r">CalEx vs. Control</T>
      <T x={148} y={f0 + c * 2.5} a="r"><i>Itpr2-/-</i> vs. Control</T>
      <T x={149} y={e} a="r">Astrocyte enrichment</T>
    </>
  )
}

const Box = ({ x1, x2, y, children }: any) => (
  <div style={{
    position: 'absolute', left: x1, top: y, width: x2 - x1, height: 12, boxSizing: 'border-box', border: '1px solid #333',
    textAlign: 'center', fontSize: 8.8, lineHeight: '10px', color: '#1a1a1a', whiteSpace: 'nowrap',
  }}>{children}</div>
)

const ColorBar = ({ id, y, stops, labels }: any) => (
  <svg style={{ position: 'absolute', left: 615, top: y, overflow: 'visible' }} width={76} height={22}>
    <defs>
      <linearGradient id={id}>
        {stops.map((s: string, i: number) => <stop key={i} offset={i / (stops.length - 1)} stopColor={s} />)}
      </linearGradient>
    </defs>
    <rect x={6} y={0} width={63} height={6} fill={`url(#${id})`} />
    <line x1={6} x2={69} y1={6} y2={6} stroke="#111" />
    {labels.map((l: string, i: number) => {
      const x = 6 + (63 * i) / (labels.length - 1)
      return (
        <g key={l}>
          <line x1={x} x2={x} y1={6} y2={10} stroke="#111" />
          <text x={x} y={18} textAnchor="middle" fontSize={8} fill="#222">{l}</text>
        </g>
      )
    })}
  </svg>
)

const Dot = ({ y, color }: any) => (
  <div style={{ position: 'absolute', left: 651, top: y - 3, width: 6, height: 6, borderRadius: 3, background: color }} />
)

export default function App() {
  return (
    <div style={{ position: 'relative', width: 765, height: 1050, overflow: 'hidden', fontFamily: font, background: '#fff' }}>
      <style>{'body{margin:0}'}</style>

      {/* A */}
      <Volcano plotLeft={154.5} plotWidth={158} greyBands={[ibarkStrip, ibarkColumn, ibarkClump, ibarkStem]} greyPts={ibarkGreyPts} bluePts={[]} redPts={ibarkRedPts}>
        <ReferenceLine segment={[{ x: -0.52, y: 0.86 }, { x: 0.5, y: 0.39 }]} stroke="#e82020" strokeWidth={0.8} />
        <ReferenceLine segment={[{ x: 2.08, y: 0.84 }, { x: 0.62, y: 0.39 }]} stroke="#e82020" strokeWidth={0.8} />
      </Volcano>
      <Volcano plotLeft={347.3} plotWidth={157} greyBands={[calexGreyBand, calexBottomRow]} blueBand={calexBlueBand} redBand={calexRedBand} greyPts={calexGreyPts} bluePts={calexBluePts} redPts={calexRedPts} />
      <Volcano plotLeft={539} plotWidth={157} greyBands={[itprGreyBand]} blueBand={itprBlueBand} redBand={itprRedBand} greyPts={itprGreyPts} bluePts={itprBluePts} redPts={itprRedPts} />

      <T x={133} y={9} size={16} style={{ fontWeight: 700, color: '#000' }}>A</T>
      <T x={235} y={4.5} a="c" size={8.6}>iβARK</T>
      <T x={235} y={14} a="c" size={8.6}>(17643 genes detected)</T>
      <T x={431} y={4.5} a="c" size={8.6}>CalEx</T>
      <T x={431} y={14} a="c" size={8.6}>(20730 genes detected)</T>
      <T x={619} y={4.5} a="c" size={8.6}><i>Itpr2-/-</i></T>
      <T x={619} y={14} a="c" size={8.6}>(16837 genes detected)</T>
      <T x={207} y={61} size={7.2} style={{ color: '#e82020', fontStyle: 'italic' }}>Snhg11</T>
      <T x={252} y={61} size={7.2} style={{ color: '#e82020', fontStyle: 'italic' }}>A330023F24Rik</T>
      <T x={164} y={82} size={7.2} style={{ color: '#3fb58f' }}>FDR (<i>P adj</i>) &lt; 0.05</T>

      <div style={{ position: 'absolute', left: 647, top: 197, width: 115, height: 38, boxSizing: 'border-box', border: '1.2px solid #222', background: '#fff' }} />
      <Dot y={206} color="#f01010" />
      <Dot y={217} color="#bdbdbd" />
      <Dot y={227} color="#0a0aee" />
      <T x={661} y={206.5} size={7.5}>UP astrocyte DEGs</T>
      <T x={661} y={217} size={7.5}>Astrocyte genes not changed</T>
      <T x={661} y={227} size={7.5}>DOWN astrocyte DEGs</T>

      {/* B */}
      <T x={133} y={307} size={16} style={{ fontWeight: 700, color: '#000' }}>B</T>
      <Box x1={152} x2={762} y={304}>Ca<Sup>2+</Sup>-binding proteins</Box>
      <RowLabels top={356} gapA={0.82} gapB={0.75} />
      <HeatPanel genes={b1Genes} levelA={b1LevelA} levelB={b1LevelB} fc1={b1Fc1} fc2={b1Fc2} fc3={b1Fc3} enrich={b1Enrich} stars2={b1Stars2} stars3={b1Stars3} left={152} top={356} cellW={8.47} gapA={0.82} gapB={0.75} />

      <Box x1={152} x2={288} y={432}>Ca<Sup>2+</Sup>-binding proteins</Box>
      <Box x1={296} x2={533} y={432}>Ca<Sup>2+</Sup> permeable transporters and channels</Box>
      <Box x1={542} x2={764} y={432}>K<Sup>+</Sup> channels</Box>
      <RowLabels top={483} />
      <HeatPanel genes={b2Genes} levelA={b2LevelA} levelB={b2LevelB} fc1={b2Fc1} fc2={b2Fc2} fc3={b2Fc3} enrich={b2Enrich} stars2={b2Stars2} stars3={b2Stars3} left={152} top={483} cellW={8.47} />
      <HeatPanel genes={b3Genes} levelA={b3LevelA} levelB={b3LevelB} fc1={b3Fc1} fc2={b3Fc2} fc3={b3Fc3} enrich={b3Enrich} stars2={b3Stars2} stars3={b3Stars3} left={296} top={483} cellW={8.47} />
      <HeatPanel genes={b4Genes} levelA={b4LevelA} levelB={b4LevelB} fc1={b4Fc1} fc2={b4Fc2} fc3={b4Fc3} enrich={b4Enrich} stars2={b4Stars2} stars3={b4Stars3} left={542} top={483} cellW={8.47} />

      {/* C */}
      <T x={133} y={568} size={16} style={{ fontWeight: 700, color: '#000' }}>C</T>
      <Box x1={152} x2={255} y={568}>Development</Box>
      <Box x1={266} x2={540} y={568}>DNA-binding proteins</Box>
      <Box x1={548} x2={667} y={568}>Neurotransmitter transporters</Box>
      <RowLabels top={613.3} />
      <HeatPanel genes={c1Genes} levelA={c1LevelA} levelB={c1LevelB} fc1={c1Fc1} fc2={c1Fc2} fc3={c1Fc3} enrich={c1Enrich} stars2={c1Stars2} stars3={c1Stars3} left={152} top={613.3} cellW={8.47} />
      <HeatPanel genes={c2Genes} levelA={c2LevelA} levelB={c2LevelB} fc1={c2Fc1} fc2={c2Fc2} fc3={c2Fc3} enrich={c2Enrich} stars2={c2Stars2} stars3={c2Stars3} left={266} top={613.3} cellW={8.47} />
      <HeatPanel genes={c3Genes} levelA={c3LevelA} levelB={c3LevelB} fc1={c3Fc1} fc2={c3Fc2} fc3={c3Fc3} enrich={c3Enrich} stars2={c3Stars2} stars3={c3Stars3} left={556} top={613.3} cellW={8.47} />

      <Box x1={152} x2={274} y={687}>Phagocytosis</Box>
      <Box x1={284} x2={440} y={687}>Secretion</Box>
      <Box x1={451} x2={580} y={687}>Synapse function</Box>
      <Box x1={582} x2={628} y={687}>Connexins</Box>
      <RowLabels top={739} />
      <HeatPanel genes={c4Genes} levelA={c4LevelA} levelB={c4LevelB} fc1={c4Fc1} fc2={c4Fc2} fc3={c4Fc3} enrich={c4Enrich} stars2={c4Stars2} stars3={c4Stars3} left={152.5} top={739} cellW={8.65} />
      <HeatPanel genes={c5Genes} levelA={c5LevelA} levelB={c5LevelB} fc1={c5Fc1} fc2={c5Fc2} fc3={c5Fc3} enrich={c5Enrich} stars2={c5Stars2} stars3={c5Stars3} left={284} top={739} cellW={8.65} />
      <HeatPanel genes={c6Genes} levelA={c6LevelA} levelB={c6LevelB} fc1={c6Fc1} fc2={c6Fc2} fc3={c6Fc3} enrich={c6Enrich} stars2={c6Stars2} stars3={c6Stars3} left={451} top={739} cellW={8.65} />
      <HeatPanel genes={c7Genes} levelA={c7LevelA} levelB={c7LevelB} fc1={c7Fc1} fc2={c7Fc2} fc3={c7Fc3} enrich={c7Enrich} stars2={c7Stars2} stars3={c7Stars3} left={591.7} top={739} cellW={8.65} />

      {/* D */}
      <T x={133} y={825} size={16} style={{ fontWeight: 700, color: '#000' }}>D</T>
      <Box x1={152.5} x2={367.5} y={824}>GPCRs</Box>
      <Box x1={378.5} x2={574.5} y={824}>G-protein subunits</Box>
      <RowLabels top={869} />
      <HeatPanel genes={d1Genes} levelA={d1LevelA} levelB={d1LevelB} fc1={d1Fc1} fc2={d1Fc2} fc3={d1Fc3} enrich={d1Enrich} stars2={d1Stars2} stars3={d1Stars3} left={152.5} top={869} cellW={8.95} />
      <HeatPanel genes={d2Genes} levelA={d2LevelA} levelB={d2LevelB} fc1={d2Fc1} fc2={d2Fc2} fc3={d2Fc3} enrich={d2Enrich} stars2={d2Stars2} stars3={d2Stars3} left={378.5} top={869} cellW={8.92} />

      <Box x1={152.5} x2={295.5} y={944}>GPCR signaling effectors</Box>
      <Box x1={306.5} x2={485.5} y={944}>GPCR signaling regulators</Box>
      <RowLabels top={985} />
      <HeatPanel genes={d3Genes} levelA={d3LevelA} levelB={d3LevelB} fc1={d3Fc1} fc2={d3Fc2} fc3={d3Fc3} enrich={d3Enrich} stars2={d3Stars2} stars3={d3Stars3} left={152.5} top={985} cellW={8.94} />
      <HeatPanel genes={d4Genes} levelA={d4LevelA} levelB={d4LevelB} fc1={d4Fc1} fc2={d4Fc2} fc3={d4Fc3} enrich={d4Enrich} stars2={d4Stars2} stars3={d4Stars3} left={306.5} top={985} cellW={8.95} />

      {/* colour scales */}
      <T x={653} y={917} a="c" size={8.6}>log<Sub>2</Sub>FC</T>
      <T x={653} y={927} a="c" size={8.6}>(Expt vs. Ctrl)</T>
      <ColorBar id="fcBar" y={933} stops={['#0000ff', '#ffffff', '#ff0000']} labels={['-1', '0', '1']} />
      <T x={653} y={965} a="c" size={8.6}>FC (IP vs. input)</T>
      <ColorBar id="enrichBar" y={971} stops={['#ffffff', '#76c478', '#003e1a']} labels={['0', '4', '8']} />
      <T x={653} y={1001} a="c" size={8.6}>FPKM</T>
      <ColorBar id="fpkmBar" y={1006} stops={['#ffffff', '#808080', '#000000']} labels={['0', '100', '200']} />
      <T x={588} y={1034.5} size={9}>★</T>
      <T x={599} y={1035} size={8.2}>Differentially expressed DEGs</T>
      <T x={652} y={1045.5} a="c" size={8.2}>(FDR &lt; 0.05)</T>
    </div>
  )
}
